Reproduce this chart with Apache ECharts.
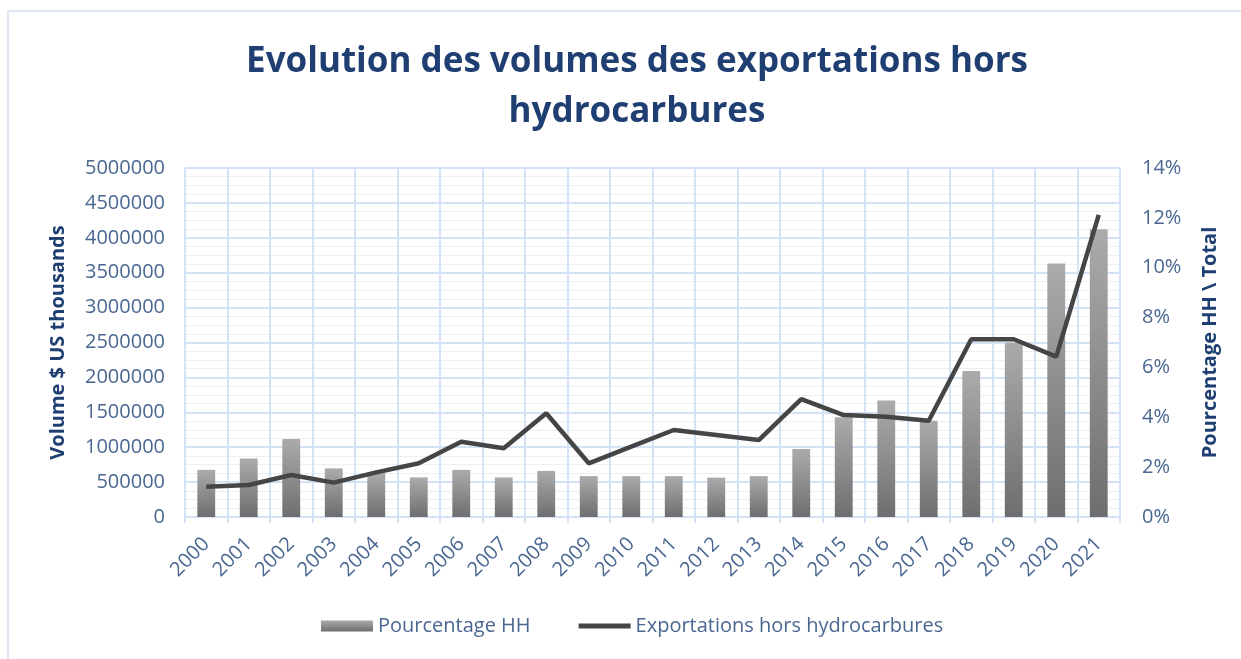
<!DOCTYPE html>
<html>
<head>
<meta charset="utf-8">
<script src="https://cdn.jsdelivr.net/npm/echarts@6/dist/echarts.min.js"></script>
<style>
  html, body { margin: 0; padding: 0; background: #fff; }
  .chart_box {
    position: absolute;
    left: 7px;
    top: 10px;
    width: 1250px;
    height: 660px;
    border: 2px solid #dbe6f4;
    box-sizing: border-box;
  }
  #main {
    position: absolute;
    left: 0;
    top: 0;
    width: 1241px;
    height: 659px;
  }
</style>
</head>
<body>
<div class="chart_box"></div>
<div id="main"></div>
<script>
const years = ['2000', '2001', '2002', '2003', '2004', '2005', '2006', '2007', '2008', '2009', '2010',
  '2011', '2012', '2013', '2014', '2015', '2016', '2017', '2018', '2019', '2020', '2021']
// Pourcentage HH (right axis, %)
const pourcentageHH = [1.89, 2.35, 3.13, 1.95, 1.78, 1.59, 1.89, 1.59, 1.85, 1.64, 1.64,
  1.64, 1.58, 1.64, 2.73, 4.0, 4.67, 3.86, 5.86, 6.99, 10.17, 11.54]
// Exportations hors hydrocarbures (left axis, $ US thousands)
const exportationsHH = [434000, 458000, 601000, 492000, 640000, 769000, 1079000, 984000, 1486000, 769000, 1007000,
  1246000, 1175000, 1103000, 1690000, 1461000, 1437000, 1380000, 2546000, 2546000, 2297000, 4327000]

const blueText = '#4a6791'
const darkBlue = '#1f3f73'
const gridBlue = '#d3e2f4'
const font = 'Open Sans'

const chart = echarts.init(document.getElementById('main'))
const option = {
  animation: false,
  textStyle: { fontFamily: font },
  title: {
    text: 'Evolution des volumes des exportations hors\nhydrocarbures',
    left: 632,
    top: 32,
    textAlign: 'center',
    textStyle: {
      fontFamily: font,
      fontSize: 35,
      fontWeight: 'bold',
      color: darkBlue,
      lineHeight: 50
    }
  },
  legend: {
    bottom: 18,
    left: 316,
    itemGap: 48,
    itemWidth: 52,
    itemHeight: 11,
    textStyle: { fontFamily: font, fontSize: 20, color: blueText },
    data: [
      { name: 'Pourcentage HH', icon: 'rect' },
      { name: 'Exportations hors hydrocarbures', icon: 'path://M0,0 H52 V5 H0 Z' }
    ]
  },
  grid: {
    left: 185,
    right: 121,
    top: 168,
    bottom: 142
  },
  xAxis: {
    type: 'category',
    data: years,
    axisLine: { lineStyle: { color: gridBlue, width: 2 } },
    axisTick: { show: true, length: 6, lineStyle: { color: gridBlue, width: 2 } },
    splitLine: { show: true, interval: 0, lineStyle: { color: gridBlue, width: 2 } },
    axisLabel: {
      rotate: 45,
      interval: 0,
      fontSize: 20,
      color: blueText,
      margin: 24
    }
  },
  yAxis: [
    {
      type: 'value',
      min: 0,
      max: 5000000,
      interval: 500000,
      name: 'Volume $ US thousands',
      nameLocation: 'middle',
      nameGap: 117,
      nameTextStyle: { fontFamily: font, fontSize: 20, fontWeight: 'bold', color: darkBlue },
      axisLine: { show: false },
      axisTick: { show: false },
      axisLabel: { fontSize: 20, color: blueText, margin: 20, formatter: v => String(v) },
      splitLine: { lineStyle: { color: gridBlue, width: 2 } },
      minorTick: { show: false, splitNumber: 4 },
      minorSplitLine: { show: true, lineStyle: { color: '#e8f0fa', width: 1 } }
    },
    {
      type: 'value',
      min: 0,
      max: 14,
      interval: 2,
      name: 'Pourcentage HH \\ Total',
      nameLocation: 'middle',
      nameGap: 80,
      nameRotate: 90,
      nameTextStyle: { fontFamily: font, fontSize: 20, fontWeight: 'bold', color: darkBlue },
      axisLine: { show: false },
      axisTick: { show: false },
      splitLine: { show: false },
      axisLabel: { fontSize: 20, color: blueText, margin: 22, formatter: '{value}%' }
    }
  ],
  series: [
    {
      name: 'Pourcentage HH',
      type: 'bar',
      yAxisIndex: 1,
      data: pourcentageHH,
      barWidth: '42%',
      itemStyle: {
        color: new echarts.graphic.LinearGradient(0, 0, 0, 1, [
          { offset: 0, color: '#ababab' },
          { offset: 1, color: '#6e6e6e' }
        ])
      }
    },
    {
      name: 'Exportations hors hydrocarbures',
      type: 'line',
      yAxisIndex: 0,
      data: exportationsHH,
      symbol: 'none',
      lineStyle: { color: '#454545', width: 4.5 },
      itemStyle: { color: '#454545' }
    }
  ]
}
chart.setOption(option)
</script>
</body>
</html>
